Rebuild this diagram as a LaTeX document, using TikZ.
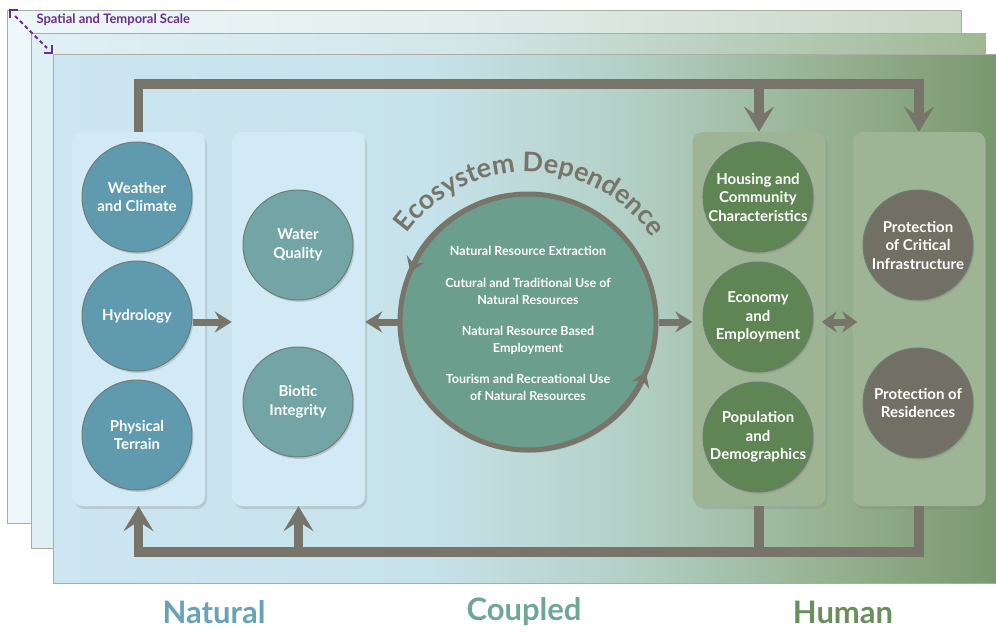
\documentclass[tikz,border=0pt]{standalone}
\usepackage{fontspec}
\setmainfont{Lato}
\usepackage{tikz}
\usetikzlibrary{arrows.meta,positioning,shadows,decorations.text,calc}

\definecolor{arrowgray}{HTML}{77756A}
\definecolor{framegray}{HTML}{A9ADA3}
\definecolor{ringgray}{HTML}{6F7C76}
\definecolor{natblue}{HTML}{5F9AAE}
\definecolor{waterteal}{HTML}{74A5A6}
\definecolor{humgreen}{HTML}{5E8553}
\definecolor{protgray}{HTML}{726F64}
\definecolor{ecoteal}{HTML}{6C9E8E}
\definecolor{natpanel}{HTML}{D2EAF5}
\definecolor{humpanel}{HTML}{9DB594}
\definecolor{scalepurple}{HTML}{6B2D8C}
\definecolor{natlabel}{HTML}{67A3B4}
\definecolor{couplabel}{HTML}{6FA696}
\definecolor{humlabel}{HTML}{6A8E5C}
% frame gradients
\definecolor{frontA}{HTML}{CDE6F2}
\definecolor{frontB}{HTML}{C6E2EA}
\definecolor{frontC}{HTML}{B4D1C8}
\definecolor{frontD}{HTML}{93AF8D}
\definecolor{frontE}{HTML}{7A9870}
\definecolor{midA}{HTML}{E0F0F6}
\definecolor{midB}{HTML}{D2E6E8}
\definecolor{midC}{HTML}{9FB893}
\definecolor{backA}{HTML}{EEF7FA}
\definecolor{backB}{HTML}{E2EEEE}
\definecolor{backC}{HTML}{C9D6C3}
\pgfdeclarehorizontalshading{frontshade}{100bp}{color(0bp)=(frontA); color(25bp)=(frontA); color(45bp)=(frontB); color(55bp)=(frontC); color(67bp)=(frontD); color(75bp)=(frontE); color(100bp)=(frontE)}
\pgfdeclarehorizontalshading{midshade}{100bp}{color(0bp)=(midA); color(25bp)=(midA); color(48bp)=(midB); color(75bp)=(midC); color(100bp)=(midC)}
\pgfdeclarehorizontalshading{backshade}{100bp}{color(0bp)=(backA); color(25bp)=(backA); color(48bp)=(backB); color(75bp)=(backC); color(100bp)=(backC)}

\begin{document}
\begin{tikzpicture}[x=1pt,y=-1pt,>={Stealth[length=25pt,width=30pt,inset=10pt]},node distance=119pt]
    \tikzstyle{column}=[rounded corners=10pt, minimum width=133pt, minimum height=374pt, drop shadow={opacity=0.25, shadow xshift=2pt, shadow yshift=-3pt}]
    \tikzstyle{bubble}=[circle, minimum size=110pt, inner sep=0pt, align=center, text=white, font=\fontsize{15}{18.5}\selectfont\bfseries, draw=ringgray, line width=1pt, drop shadow={opacity=0.3, shadow xshift=1.5pt, shadow yshift=-2pt}]
    \tikzstyle{flow}=[draw=arrowgray, line width=9.5pt]
    \tikzstyle{hflow}=[draw=arrowgray, line width=7pt, -{Stealth[length=17pt,width=21pt,inset=6pt]}]
    \tikzstyle{ringflow}=[draw=arrowgray, line width=5pt, -{Stealth[length=14pt,width=19pt,inset=5pt]}]
    \tikzstyle{bigword}=[font=\fontsize{31}{31}\selectfont\bfseries]

    \useasboundingbox (0,0) rectangle (996,635);

    % stacked scale frames
    \shade[shading=backshade, draw=framegray] (7,10) rectangle (961,523);
    \shade[shading=midshade, draw=framegray] (31,33) rectangle (985,548);
    \shade[shading=frontshade, draw=framegray] (53,54) rectangle (996,583);

    \coordinate (scaleA) at (10,10);
    \coordinate (scaleB) at (52,53);
    \draw[scalepurple, line width=2pt] (scaleA) ++(0,8) -- (scaleA) -- ++(8,0);
    \draw[scalepurple, line width=2pt] (scaleB) ++(0,-8) -- (scaleB) -- ++(-8,0);
    \draw[scalepurple, line width=2pt, dash pattern=on 4pt off 3pt] ($(scaleA)+(5,6)$) -- ($(scaleB)+(-5,-5)$);
    \node[anchor=west, text=scalepurple, font=\fontsize{13}{14}\selectfont\bfseries] (scale) at (33,20) {Spatial and Temporal Scale};

    % panels
    \node[column, fill=natpanel] (natcol) at (138.5,319) {};
    \node[column, fill=natpanel] (biocol) at (298.5,319) {};
    \node[column, fill=humpanel] (humcol) at (759,319) {};
    \node[column, fill=humpanel] (infracol) at (919,319) {};

    % natural side
    \node[bubble, fill=natblue] (weather) at (137,197) {Weather\\and Climate};
    \node[bubble, fill=natblue] (hydro) [below of=weather] {Hydrology};
    \node[bubble, fill=natblue] (terrain) [below of=hydro] {Physical\\Terrain};
    \node[bubble, fill=waterteal] (water) at (298,245) {Water\\Quality};
    \node[bubble, fill=waterteal] (biotic) [below of=water, node distance=157pt] {Biotic\\Integrity};

    % human side
    \node[bubble, fill=humgreen] (housing) at (758,197) {Housing and\\Community\\Characteristics};
    \node[bubble, fill=humgreen] (economy) [below of=housing, node distance=120pt] {Economy\\and\\Employment};
    \node[bubble, fill=humgreen] (population) [below of=economy, node distance=120pt] {Population\\and\\Demographics};
    \node[bubble, fill=protgray] (critical) at (918,245) {Protection\\of Critical\\Infrastructure};
    \node[bubble, fill=protgray] (residences) [below of=critical, node distance=158pt] {Protection of\\Residences};

    % coupled
    \node[circle, minimum size=256pt, inner sep=0pt, fill=ecoteal, draw=arrowgray, line width=5pt, drop shadow={opacity=0.25, shadow xshift=2pt, shadow yshift=-3pt}] (eco) at (528,322) {};
    \node[text=white, align=center, font=\fontsize{12.5}{16.5}\selectfont\bfseries] (ecotext) at (528,323) {Natural Resource Extraction\\[16pt]
        Cutural and Traditional Use of\\Natural Resources\\[15pt]
        Natural Resource Based\\Employment\\[15pt]
        Tourism and Recreational Use\\of Natural Resources};
    \path[decorate, decoration={text along path, text align=center,
        text={|\color{arrowgray}\fontsize{27}{27}\selectfont\bfseries|Ecosystem Dependence}}]
        (eco.center) ++(204:150) arc[start angle=204, end angle=338, radius=150];
    \draw[ringflow] (eco.center) ++(262:128) arc[start angle=262, end angle=203, radius=128];
    \draw[ringflow] (eco.center) ++(82:128) arc[start angle=82, end angle=23, radius=128];

    % feedback connectors
    \coordinate (railN) at (527,84);
    \coordinate (railS) at (527,552);
    \draw[flow,->] (natcol.north) |- (railN) -| (infracol.north);
    \draw[flow,->] (humcol.north |- railN) -- (humcol.north);
    \draw[flow,->] (infracol.south) |- (railS) -| (natcol.south);
    \draw[flow,->] (biocol.south |- railS) -- (biocol.south);
    \draw[flow] (humcol.south) -- (humcol.south |- railS);
    \draw[hflow] (hydro.east |- eco) -- (biocol.west |- eco);
    \draw[hflow] (eco.west) -- (biocol.east |- eco);
    \draw[hflow] (eco.east) -- (humcol.west |- eco);
    \draw[hflow, {Stealth[length=15pt,width=21pt,inset=5pt]}-{Stealth[length=15pt,width=21pt,inset=5pt]}, shorten <=-4pt, shorten >=-5pt] (humcol.east |- eco) -- (infracol.west |- eco);

    % realm labels
    \node[bigword, text=natlabel] (natural) at (214,612) {Natural};
    \node[bigword, text=couplabel] (coupled) at (524,612) {Coupled};
    \node[bigword, text=humlabel] (human) at (843,612) {Human};
\end{tikzpicture}
\end{document}
